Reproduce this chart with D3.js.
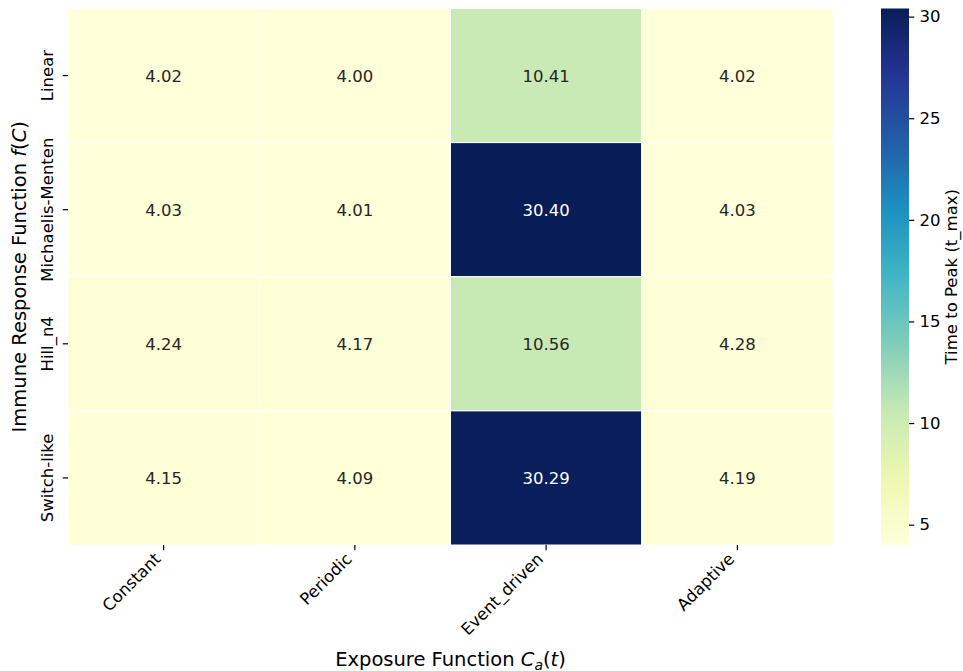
<!DOCTYPE html>
<html>
<head>
<meta charset="utf-8">
<script src="https://cdn.jsdelivr.net/npm/d3@7"></script>
<style>
  html, body { margin: 0; padding: 0; background: #fff; }
  svg { display: block; font-family: "DejaVu Sans", sans-serif; }
</style>
</head>
<body>
<svg id="chart" width="963" height="671"></svg>
<script>
// Exposure functions (columns) and immune response functions (rows)
const exposures = ["Constant", "Periodic", "Event_driven", "Adaptive"];
const responses = ["Linear", "Michaelis-Menten", "Hill_n4", "Switch-like"];

// Time to peak, one array per response function, ordered like `exposures`
const linearValues   = [4.02, 4.00, 10.41, 4.02];
const michaelisValues = [4.03, 4.01, 30.40, 4.03];
const hillValues     = [4.24, 4.17, 10.56, 4.28];
const switchValues   = [4.15, 4.09, 30.29, 4.19];

const colorbarTicks = [5, 10, 15, 20, 25, 30];

const rowValues = [linearValues, michaelisValues, hillValues, switchValues];
const cells = [];
responses.forEach((r, i) => exposures.forEach((e, j) =>
  cells.push({ response: r, exposure: e, value: rowValues[i][j] })));

// YlGnBu, piecewise-linear through the nine ColorBrewer anchors
const ylgnbu = d3.piecewise(d3.interpolateRgb, [
  "#ffffd9", "#edf8b1", "#c7e9b4", "#7fcdbb", "#41b6c4",
  "#1d91c0", "#225ea8", "#253494", "#081d58"]);
const extent = d3.extent(cells, d => d.value);
const color = d3.scaleSequential(ylgnbu).domain(extent);

const FS = 16.5;      // tick labels and annotations
const TITLE_FS = 19.5;

const svg = d3.select("#chart");
const plot = { left: 68, right: 833, top: 8.5, bottom: 545 };

const x = d3.scaleBand().domain(exposures).range([plot.left, plot.right]);
const y = d3.scaleBand().domain(responses).range([plot.top, plot.bottom]);

// Heatmap cells
svg.append("g").selectAll("rect").data(cells).join("rect")
  .attr("x", d => x(d.exposure))
  .attr("y", d => y(d.response))
  .attr("width", x.bandwidth())
  .attr("height", y.bandwidth())
  .attr("fill", d => color(d.value))
  .attr("stroke", "#fff")
  .attr("stroke-width", 1);

// Value annotations
svg.append("g").selectAll("text").data(cells).join("text")
  .attr("x", d => x(d.exposure) + x.bandwidth() / 2)
  .attr("y", d => y(d.response) + y.bandwidth() / 2)
  .attr("dy", "0.36em")
  .attr("text-anchor", "middle")
  .attr("font-size", FS)
  .attr("fill", d => d3.hsl(color(d.value)).l < 0.5 ? "#ffffff" : "#262626")
  .text(d => d.value.toFixed(2));

// X axis ticks and rotated labels
const xt = svg.append("g").selectAll("g").data(exposures).join("g");
xt.append("line")
  .attr("x1", d => x(d) + x.bandwidth() / 2).attr("x2", d => x(d) + x.bandwidth() / 2)
  .attr("y1", plot.bottom).attr("y2", plot.bottom + 5.25)
  .attr("stroke", "#000").attr("stroke-width", 1.2);
xt.append("text")
  .attr("transform", d => `translate(${x(d) + x.bandwidth() / 2 - 2},${plot.bottom + 15}) rotate(-45)`)
  .attr("text-anchor", "end")
  .attr("font-size", FS)
  .attr("fill", "#000")
  .text(d => d);

// Y axis ticks and rotated labels
const yt = svg.append("g").selectAll("g").data(responses).join("g");
yt.append("line")
  .attr("x1", plot.left - 5.25).attr("x2", plot.left)
  .attr("y1", d => y(d) + y.bandwidth() / 2).attr("y2", d => y(d) + y.bandwidth() / 2)
  .attr("stroke", "#000").attr("stroke-width", 1.2);
yt.append("text")
  .attr("transform", d => `translate(53,${y(d) + y.bandwidth() / 2}) rotate(-90)`)
  .attr("text-anchor", "middle")
  .attr("font-size", FS)
  .attr("fill", "#000")
  .text(d => d);

// Axis titles
const xTitle = svg.append("text")
  .attr("x", (plot.left + plot.right) / 2).attr("y", 666)
  .attr("text-anchor", "middle").attr("font-size", TITLE_FS).attr("fill", "#000");
xTitle.append("tspan").text("Exposure Function ");
xTitle.append("tspan").attr("font-style", "italic").text("C");
xTitle.append("tspan").attr("font-style", "italic").attr("font-size", 14).attr("dy", 3.5).text("a");
xTitle.append("tspan").attr("dy", -3.5).text("(");
xTitle.append("tspan").attr("font-style", "italic").text("t");
xTitle.append("tspan").text(")");

const yTitle = svg.append("text")
  .attr("transform", `translate(26,${(plot.top + plot.bottom) / 2}) rotate(-90)`)
  .attr("text-anchor", "middle").attr("font-size", TITLE_FS).attr("fill", "#000");
yTitle.append("tspan").text("Immune Response Function ");
yTitle.append("tspan").attr("font-style", "italic").text("f");
yTitle.append("tspan").text("(");
yTitle.append("tspan").attr("font-style", "italic").text("C");
yTitle.append("tspan").text(")");

// Colorbar
const cb = { left: 881, width: 28 };
const cbScale = d3.scaleLinear().domain(extent).range([plot.bottom, plot.top]);
const defs = svg.append("defs");
const grad = defs.append("linearGradient").attr("id", "cbgrad")
  .attr("x1", 0).attr("y1", 1).attr("x2", 0).attr("y2", 0);
d3.range(0, 1.0001, 0.02).forEach(t => {
  grad.append("stop").attr("offset", t)
    .attr("stop-color", color(extent[0] + t * (extent[1] - extent[0])));
});
svg.append("rect")
  .attr("x", cb.left).attr("y", plot.top)
  .attr("width", cb.width).attr("height", plot.bottom - plot.top)
  .attr("fill", "url(#cbgrad)");

const cbAxis = d3.axisRight(cbScale).tickValues(colorbarTicks)
  .tickSize(5.25).tickPadding(5.25);
const cbG = svg.append("g")
  .attr("transform", `translate(${cb.left + cb.width},0)`)
  .call(cbAxis);
cbG.select(".domain").remove();
cbG.selectAll("line").attr("stroke", "#000").attr("stroke-width", 1.2);
cbG.selectAll("text").attr("font-size", FS).attr("fill", "#000")
  .attr("font-family", "DejaVu Sans, sans-serif");

svg.append("text")
  .attr("transform", `translate(957,${(plot.top + plot.bottom) / 2}) rotate(-90)`)
  .attr("text-anchor", "middle").attr("font-size", FS).attr("fill", "#000")
  .text("Time to Peak (t_max)");
</script>
</body>
</html>
